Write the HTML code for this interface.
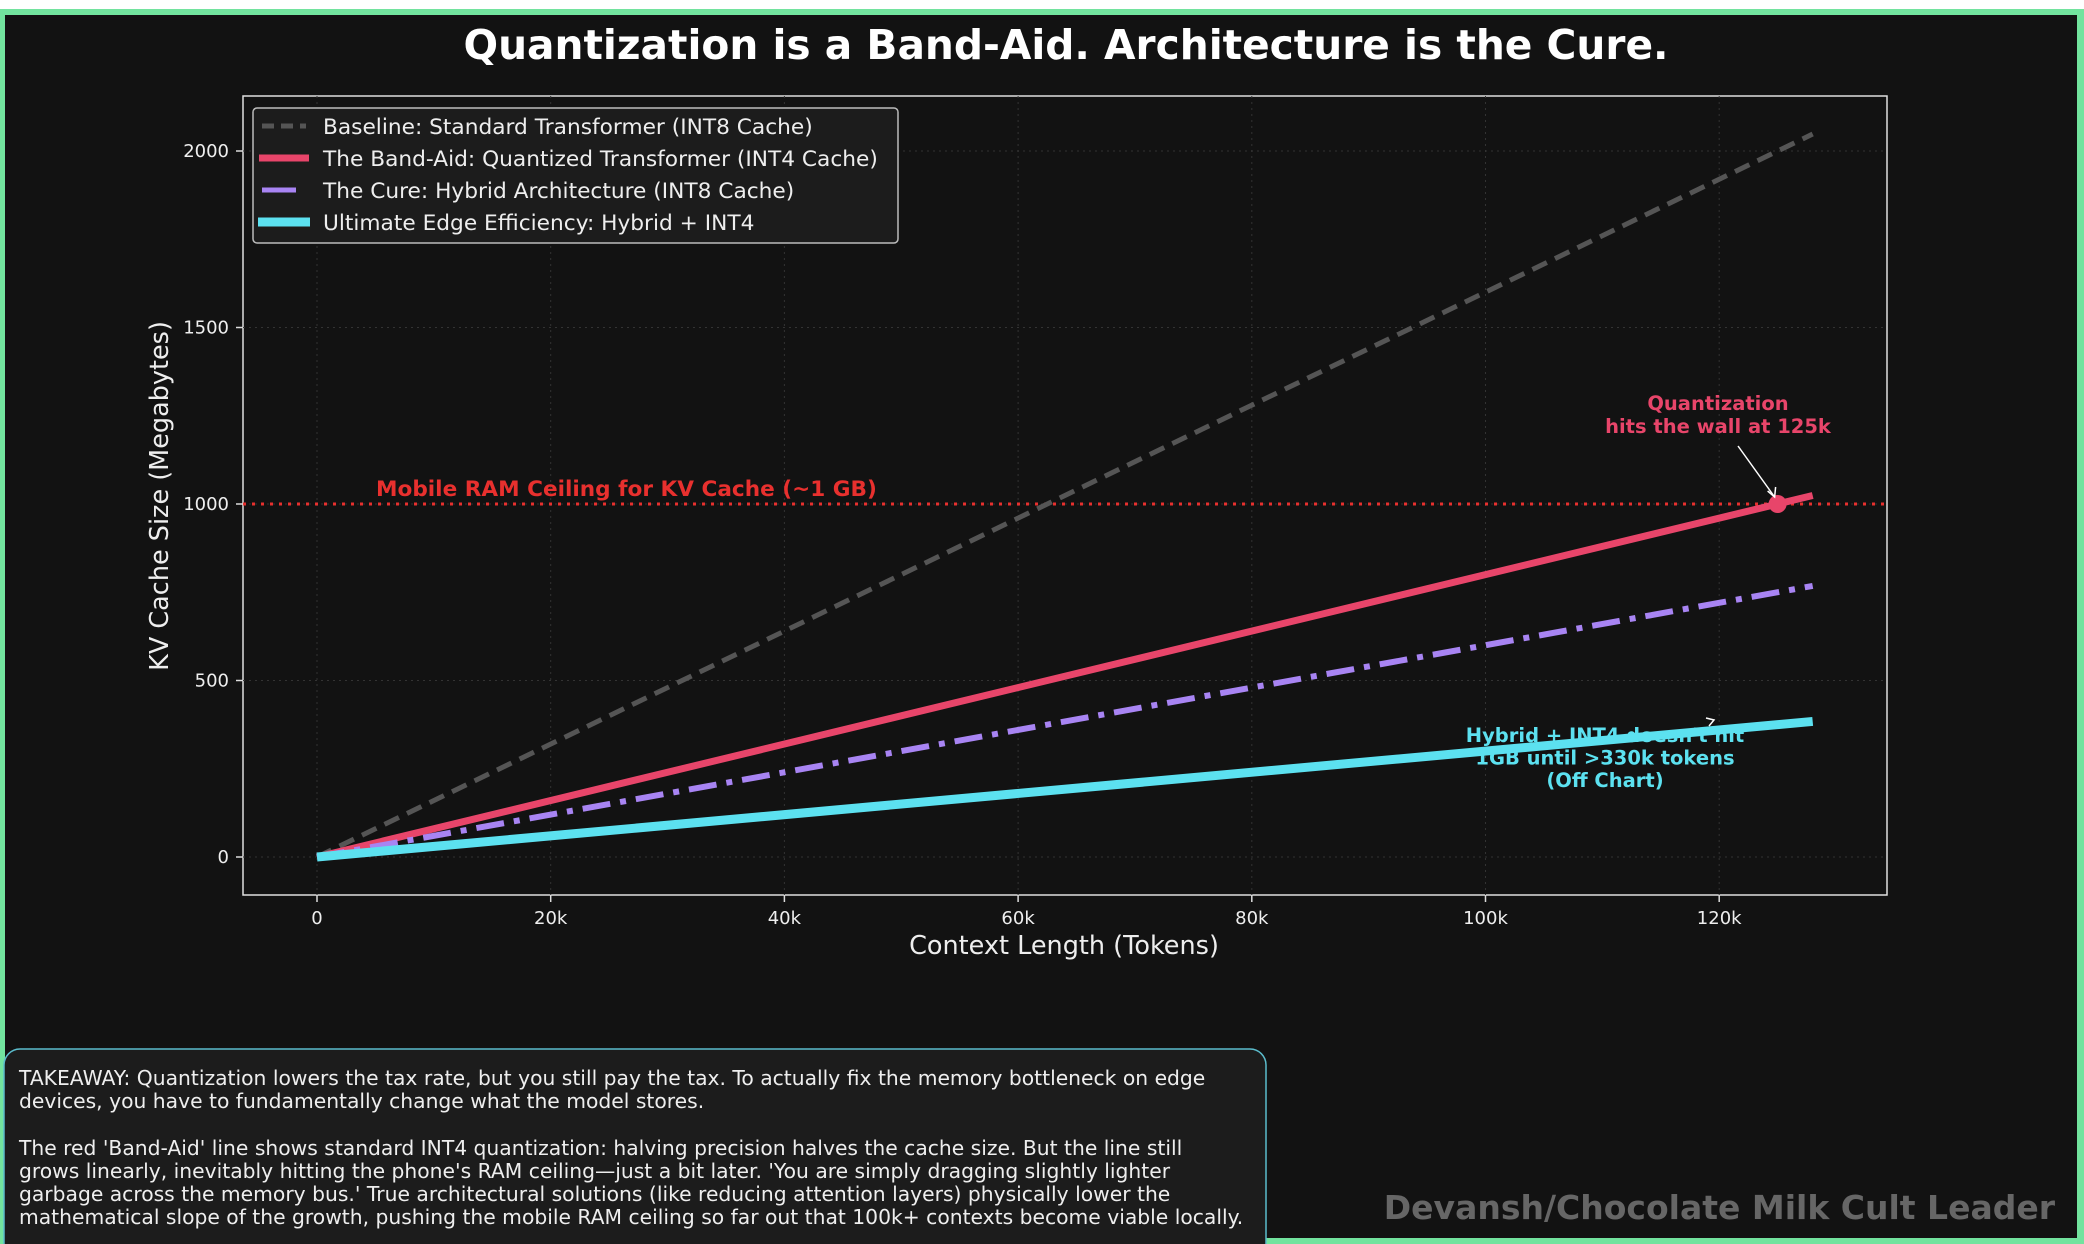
<!DOCTYPE html>
<html><head><meta charset="utf-8">
<style>
html,body{margin:0;padding:0;background:#fff;}
svg{display:block;}
text{font-family:"DejaVu Sans","Liberation Sans",sans-serif;}
</style></head>
<body>
<svg id="chart" width="2084" height="1244" viewBox="0 0 2084 1244" xmlns="http://www.w3.org/2000/svg">
<rect x="0" y="0" width="2084" height="1244" fill="#ffffff"/>
<rect x="0" y="9" width="2084" height="1235" fill="#72e39e"/>
<rect x="5" y="15" width="2072" height="1223" fill="#121212"/>
<text x="1066" y="59" text-anchor="middle" font-size="40.7" font-weight="bold" fill="#ffffff">Quantization is a Band-Aid. Architecture is the Cure.</text>
<rect x="243" y="96" width="1644" height="799" fill="#121212" stroke="#e0e0e0" stroke-width="1.5"/>
<g id="grid"></g>
<g id="ticks"></g>
<g id="series"></g>
<g id="annot"></g>
<text transform="translate(168,496) rotate(-90)" text-anchor="middle" font-size="25.5" fill="#eeeeee">KV Cache Size (Megabytes)</text>
<text x="1064" y="954" text-anchor="middle" font-size="25.5" fill="#eeeeee">Context Length (Tokens)</text>
<g>
<rect x="253" y="108" width="645" height="135" rx="4" fill="#1c1c1c" stroke="#bbbbbb" stroke-width="1.5"/>
<line x1="262" y1="126" x2="306" y2="126" stroke="#555" stroke-width="5" stroke-dasharray="12,7"/>
<text x="323" y="134" font-size="21.7" fill="#eeeeee">Baseline: Standard Transformer (INT8 Cache)</text>
<line x1="259" y1="158" x2="309" y2="158" stroke="#e8456a" stroke-width="7"/>
<text x="323" y="166" font-size="21.7" fill="#eeeeee">The Band-Aid: Quantized Transformer (INT4 Cache)</text>
<line x1="262" y1="190" x2="296" y2="190" stroke="#a884f3" stroke-width="5"/>
<text x="323" y="198" font-size="21.7" fill="#eeeeee">The Cure: Hybrid Architecture (INT8 Cache)</text>
<line x1="258" y1="222" x2="310" y2="222" stroke="#5ce1f0" stroke-width="9"/>
<text x="323" y="230" font-size="21.7" fill="#eeeeee">Ultimate Edge Efficiency: Hybrid + INT4</text>
</g>
<g>
<rect x="4" y="1049" width="1262" height="210" rx="16" fill="#1c1c1c" stroke="#5bbccc" stroke-width="1.5"/>
<text font-size="20.3" fill="#eeeeee">
<tspan x="19" y="1085">TAKEAWAY: Quantization lowers the tax rate, but you still pay the tax. To actually fix the memory bottleneck on edge</tspan>
<tspan x="19" y="1108">devices, you have to fundamentally change what the model stores.</tspan>
<tspan x="19" y="1155">The red 'Band-Aid' line shows standard INT4 quantization: halving precision halves the cache size. But the line still</tspan>
<tspan x="19" y="1178">grows linearly, inevitably hitting the phone's RAM ceiling—just a bit later. 'You are simply dragging slightly lighter</tspan>
<tspan x="19" y="1201">garbage across the memory bus.' True architectural solutions (like reducing attention layers) physically lower the</tspan>
<tspan x="19" y="1224">mathematical slope of the growth, pushing the mobile RAM ceiling so far out that 100k+ contexts become viable locally.</tspan>
</text>
</g>
<text x="2055" y="1219" text-anchor="end" font-size="33" font-weight="bold" fill="#666666">Devansh/Chocolate Milk Cult Leader</text>
</svg>
<script>
const xTicks = [0, 20000, 40000, 60000, 80000, 100000, 120000];
const xTickLabels = ["0", "20k", "40k", "60k", "80k", "100k", "120k"];
const yTicks = [0, 500, 1000, 1500, 2000];
const yTickLabels = ["0", "500", "1000", "1500", "2000"];
const contextTokens = [0, 128000];
const baselineMB = [0, 2048];
const bandAidMB = [0, 1024];
const hybridMB = [0, 768];
const hybridInt4MB = [0, 384];
const ceilingMB = 1000;
const wallPoint = [125000, 1000];

const NS = "http://www.w3.org/2000/svg";
function sx(v){ return 317 + (v/20000)*233.7; }
function sy(v){ return 857 - (v/500)*176.5; }
function mk(tag, attrs, parent){
  const e = document.createElementNS(NS, tag);
  for (const k in attrs) e.setAttribute(k, attrs[k]);
  parent.appendChild(e); return e;
}
const grid = document.getElementById('grid');
const ticks = document.getElementById('ticks');
xTicks.forEach((t,i)=>{
  const g = mk('line',{x1:sx(t),x2:sx(t),y1:96,y2:895,stroke:'#333',"stroke-width":1,"stroke-dasharray":"2,4"},grid);
  
  
  const tk = mk('line',{x1:sx(t),x2:sx(t),y1:895,y2:902,stroke:'#ddd',"stroke-width":1.5},ticks);
  
  
  const tl = mk('text',{x:sx(t),y:924,"text-anchor":"middle","font-size":18,fill:"#eeeeee"},ticks);
  tl.textContent = xTickLabels[i];
  
  
});
yTicks.forEach((t,i)=>{
  const g = mk('line',{x1:243,x2:1887,y1:sy(t),y2:sy(t),stroke:'#333',"stroke-width":1,"stroke-dasharray":"2,4"},grid);
  
  
  const tk = mk('line',{x1:236,x2:243,y1:sy(t),y2:sy(t),stroke:'#ddd',"stroke-width":1.5},ticks);
  
  
  const tl = mk('text',{x:229,y:sy(t)+6,"text-anchor":"end","font-size":18,fill:"#eeeeee"},ticks);
  tl.textContent = yTickLabels[i];
  
  
});
const series = document.getElementById('series');
const cl = mk('line',{x1:243,x2:1887,y1:sy(ceilingMB),y2:sy(ceilingMB),stroke:'#e8302e',"stroke-width":3,"stroke-dasharray":"3,6"},series);


function pts(ys){ return contextTokens.map((x,i)=>sx(x)+','+sy(ys[i])).join(' '); }
const l1 = mk('polyline',{points:pts(baselineMB),fill:'none',stroke:'#555',"stroke-width":5,"stroke-dasharray":"16,9"},series);


const l2 = mk('polyline',{points:pts(bandAidMB),fill:'none',stroke:'#e8456a',"stroke-width":7},series);


const l3 = mk('polyline',{points:pts(hybridMB),fill:'none',stroke:'#a884f3',"stroke-width":6,"stroke-dasharray":"28,10,6,10"},series);


const l4 = mk('polyline',{points:pts(hybridInt4MB),fill:'none',stroke:'#5ce1f0',"stroke-width":9},series);


const wp = mk('circle',{cx:sx(wallPoint[0]),cy:sy(wallPoint[1]),r:9,fill:'#e8456a'},series);



const annot = document.getElementById('annot');
const ct = mk('text',{x:376,y:496,"font-size":21.6,"font-weight":"bold",fill:"#e8302e"},annot);
ct.textContent = 'Mobile RAM Ceiling for KV Cache (~1 GB)';


const q1 = mk('text',{x:1718,y:410,"text-anchor":"middle","font-size":19.5,"font-weight":"bold",fill:"#e8456a"},annot);
q1.textContent = 'Quantization';


const q2 = mk('text',{x:1718,y:433,"text-anchor":"middle","font-size":19.5,"font-weight":"bold",fill:"#e8456a"},annot);
q2.textContent = 'hits the wall at 125k';


const ar = mk('line',{x1:1738,y1:446,x2:sx(wallPoint[0])-3,y2:sy(wallPoint[1])-7,stroke:'#fff',"stroke-width":1.5},annot);


const ah = mk('polyline',{points:(sx(wallPoint[0])-10)+','+(sy(wallPoint[1])-13)+' '+(sx(wallPoint[0])-3)+','+(sy(wallPoint[1])-7)+' '+(sx(wallPoint[0])-2)+','+(sy(wallPoint[1])-17),fill:'none',stroke:'#fff',"stroke-width":1.5},annot);


const cyanLines = ['Hybrid + INT4 doesn\'t hit','1GB until >330k tokens','(Off Chart)'];
cyanLines.forEach((s,i)=>{
  const t = mk('text',{x:1605,y:742+i*22.5,"text-anchor":"middle","font-size":19.5,"font-weight":"bold",fill:"#5ce1f0"},annot);
  t.textContent = s;
  
  
});
const ca = mk('polyline',{points:'1706,718 1714,720 1709,726',fill:'none',stroke:'#fff',"stroke-width":1.5},annot);


</script>
</body></html>
